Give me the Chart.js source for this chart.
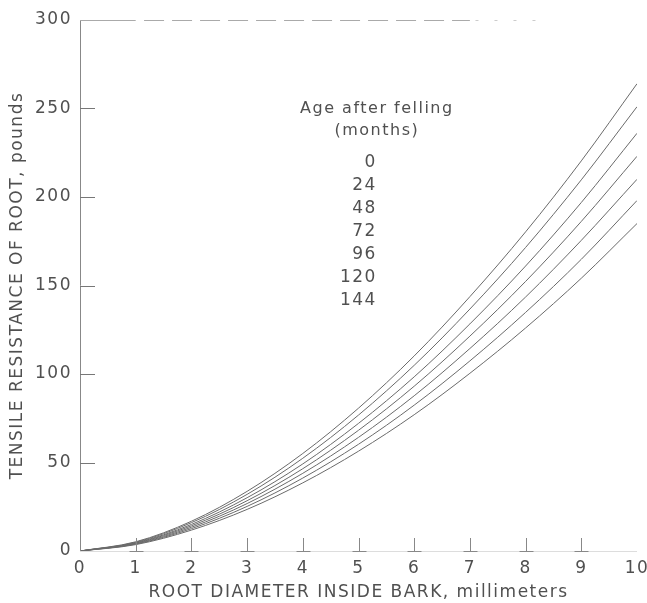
<!DOCTYPE html>
<html>
<head>
<meta charset="utf-8">
<script src="https://cdn.jsdelivr.net/npm/chart.js@4.4.1/dist/chart.umd.min.js"></script>
<style>
html, body { margin: 0; padding: 0; background: #fff; }
</style>
</head>
<body>
<canvas id="chart" width="647" height="603"></canvas>
<script>
// root diameter inside bark, mm
const diameters = [0, 1, 2, 3, 4, 5, 6, 7, 8, 9, 10];
// age after felling, months
const ages = [0, 24, 48, 72, 96, 120, 144];

// tensile resistance, pounds
const age0   = [0, 5.2, 16.8, 33.7, 55.1, 80.7, 110.2, 143.7, 180.3, 220.4, 264];
const age24  = [0, 4.9, 16.0, 32.0, 52.4, 76.8, 104.9, 136.7, 171.5, 209.7, 251];
const age48  = [0, 4.6, 15.0, 30.1, 49.2, 72.1, 98.4, 128.3, 161.0, 196.9, 236];
const age72  = [0, 4.4, 14.2, 28.4, 46.5, 68.2, 93.1, 121.4, 152.3, 186.2, 223];
const age96  = [0, 4.1, 13.4, 26.8, 43.9, 64.2, 87.7, 114.4, 143.5, 175.5, 210];
const age120 = [0, 3.9, 12.6, 25.2, 41.2, 60.3, 82.4, 107.4, 134.8, 164.8, 198];
const age144 = [0, 3.6, 11.8, 23.5, 38.5, 56.4, 77.0, 100.4, 126.0, 154.1, 185];

const yTicks = [0, 50, 100, 150, 200, 250, 300];
const xTicks = [0, 1, 2, 3, 4, 5, 6, 7, 8, 9, 10];

const series = [age0, age24, age48, age72, age96, age120, age144];
const ink = '#505050';
const fontFamily = '"DejaVu Sans", sans-serif';

const datasets = series.map((vals, i) => ({
    label: ages[i] + ' months',
    data: diameters.map((d, j) => ({ x: d, y: vals[j] })),
    borderColor: '#6a6a6a',
    borderWidth: 1,
    pointRadius: 0,
    fill: false,
    cubicInterpolationMode: 'monotone'
}));

// the old lettering is widely spaced
const spacing = {
    id: 'spacing',
    beforeLayout(chart) { chart.ctx.letterSpacing = '1.5px'; },
    beforeDraw(chart) { chart.ctx.letterSpacing = '1.5px'; }
};

// axes drawn like the old figure: inward ticks, dashed top edge, key text
const decorations = {
    id: 'decorations',
    afterDraw(chart) {
        const ctx = chart.ctx;
        const xs = chart.scales.x;
        const ys = chart.scales.y;
        const left = xs.getPixelForValue(0);
        const bottom = ys.getPixelForValue(0);
        const top = ys.getPixelForValue(300);
        ctx.save();

        // left axis
        ctx.strokeStyle = '#888';
        ctx.lineWidth = 1;
        ctx.beginPath();
        ctx.moveTo(left + 0.5, top);
        ctx.lineTo(left + 0.5, bottom);
        ctx.stroke();

        // y ticks pointing inward
        ctx.strokeStyle = '#777';
        yTicks.forEach(v => {
            const py = Math.round(ys.getPixelForValue(v)) + 0.5;
            ctx.beginPath();
            ctx.moveTo(left, py);
            ctx.lineTo(left + 15, py);
            ctx.stroke();
        });

        // faint bottom axis
        ctx.strokeStyle = '#ddd';
        ctx.beginPath();
        ctx.moveTo(left, bottom + 0.5);
        ctx.lineTo(xs.getPixelForValue(10), bottom + 0.5);
        ctx.stroke();

        // x ticks as small inverted T marks
        ctx.strokeStyle = '#888';
        xTicks.slice(1, 10).forEach(v => {
            const px = Math.round(xs.getPixelForValue(v)) + 0.5;
            ctx.beginPath();
            ctx.moveTo(px, bottom);
            ctx.lineTo(px, bottom - 13);
            ctx.moveTo(px - 7, bottom + 0.5);
            ctx.lineTo(px + 7, bottom + 0.5);
            ctx.stroke();
        });

        // top edge: solid start, then dashes fading to dots
        const ty = Math.round(top) + 0.5;
        ctx.strokeStyle = '#aaa';
        ctx.beginPath();
        ctx.moveTo(left, ty);
        ctx.lineTo(xs.getPixelForValue(1), ty);
        ctx.stroke();
        ctx.setLineDash([20, 8]);
        ctx.beginPath();
        ctx.moveTo(xs.getPixelForValue(1.15), ty);
        ctx.lineTo(xs.getPixelForValue(7), ty);
        ctx.stroke();
        ctx.strokeStyle = '#ccc';
        ctx.setLineDash([3, 16]);
        ctx.beginPath();
        ctx.moveTo(xs.getPixelForValue(7.1), ty);
        ctx.lineTo(xs.getPixelForValue(8.3), ty);
        ctx.stroke();
        ctx.setLineDash([]);

        // key
        const kx = xs.getPixelForValue(5.33);
        const ky = ys.getPixelForValue(250);
        ctx.fillStyle = ink;
        ctx.textBaseline = 'middle';
        ctx.textAlign = 'center';
        ctx.font = '16px ' + fontFamily;
        ctx.fillText('Age after felling', kx, ky);
        ctx.fillText('(months)', kx, ky + 22);
        ctx.textAlign = 'right';
        ctx.font = '17px ' + fontFamily;
        ages.forEach((a, i) => {
            ctx.fillText(String(a), kx, ky + 54 + i * 23);
        });
        ctx.restore();
    }
};

new Chart(document.getElementById('chart'), {
    type: 'line',
    data: { datasets: datasets },
    options: {
        responsive: false,
        animation: false,
        layout: { padding: { left: 7, right: 0, top: 20, bottom: 0 } },
        plugins: {
            legend: { display: false },
            tooltip: { enabled: false }
        },
        scales: {
            x: {
                type: 'linear',
                min: 0,
                max: 10,
                afterFit: scale => {
                    scale.height = 52;
                    scale.paddingLeft = 0;
                    scale.paddingRight = 10;
                },
                afterBuildTicks: scale => { scale.ticks = xTicks.map(v => ({ value: v })); },
                grid: { display: false, drawTicks: false },
                border: { display: false },
                ticks: { color: ink, font: { family: fontFamily, size: 17 }, padding: 7, maxRotation: 0 },
                title: {
                    display: true,
                    text: 'ROOT DIAMETER INSIDE BARK, millimeters',
                    color: ink,
                    font: { family: fontFamily, size: 17 },
                    padding: { top: 0, bottom: 0 }
                }
            },
            y: {
                type: 'linear',
                min: 0,
                max: 300,
                afterFit: scale => { scale.width = 73; },
                afterBuildTicks: scale => { scale.ticks = yTicks.map(v => ({ value: v })); },
                grid: { display: false, drawTicks: false },
                border: { display: false },
                ticks: { color: ink, font: { family: fontFamily, size: 17 }, padding: 8 },
                title: {
                    display: true,
                    text: 'TENSILE RESISTANCE OF ROOT, pounds',
                    color: ink,
                    font: { family: fontFamily, size: 17 },
                    padding: { top: 0, bottom: 0 }
                }
            }
        }
    },
    plugins: [spacing, decorations]
});
</script>
</body>
</html>
